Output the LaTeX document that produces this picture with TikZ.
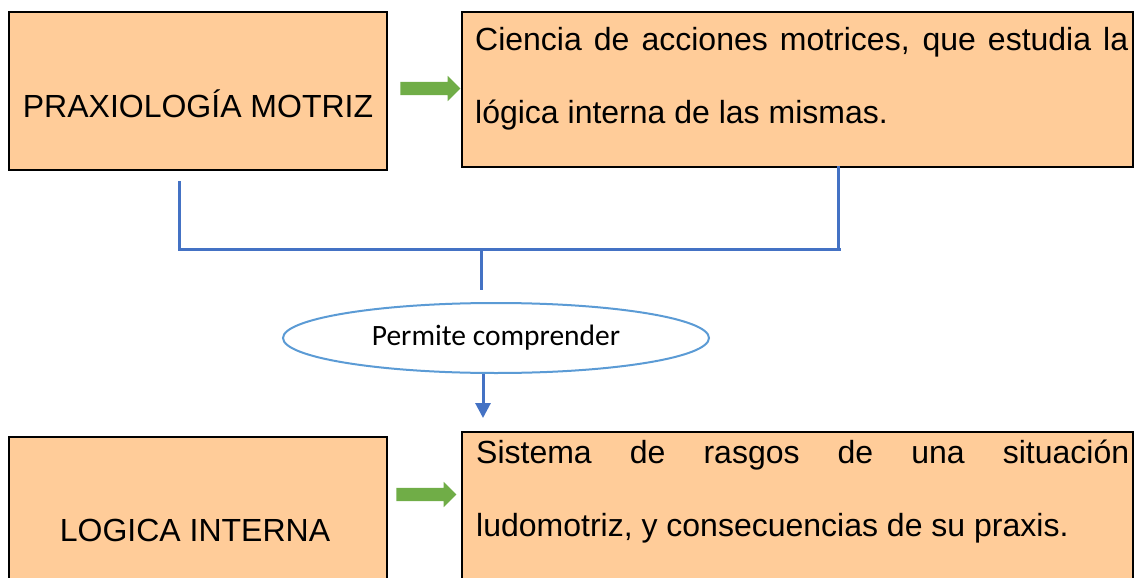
\documentclass[tikz,border=0pt]{standalone}
\usepackage{fontspec}
\setmainfont{Liberation Sans}
\newfontfamily\ovalfont{Carlito}
\usetikzlibrary{positioning}
\usetikzlibrary{shapes.geometric}
\usetikzlibrary{shapes.arrows}
\usetikzlibrary{arrows.meta}
\definecolor{boxorange}{HTML}{FFCC99}
\definecolor{linkblue}{HTML}{4472C4}
\definecolor{ovalblue}{HTML}{5B9BD5}
\definecolor{arrowgreen}{HTML}{70AD47}

\begin{document}
\begin{tikzpicture}[
                x=1pt, y=-1pt,
                box/.style = {
                    draw,
                    fill=boxorange,
                    line width = 2.5pt,
                    inner sep = 0pt
                },
                txt/.style = {
                    font=\fontsize{32}{38}\selectfont,
                    inner sep = 0pt,
                    anchor = base
                },
                link/.style = {linkblue, line width = 3pt},
                go/.style = {
                    single arrow,
                    fill=arrowgreen,
                    inner xsep = 0pt,
                    inner ysep = 6.5pt,
                    minimum height = 60pt,
                    minimum width = 25pt,
                    single arrow head extend = 6pt
                }
            ]
            \useasboundingbox (0,0) rectangle (1135,578);
            % 
            \node[box, minimum width=378pt, minimum height=158pt] (praxis) at (198,91) {};
            \node[txt] (praxistxt) at (198,117) {PRAXIOLOGÍA MOTRIZ};
            % 
            \node[box, minimum width=671pt, minimum height=155pt] (ciencia) at (797.5,89.5) {};
            \node[txt, anchor=base west] (ciencia1) at (475,51) {\makebox[653pt][s]{Ciencia de acciones motrices, que estudia la}};
            \node[txt, anchor=base west] (ciencia2) at (475,123) {lógica interna de las mismas.};
            % 
            \node[go] (gotop) at (427,88.5) {};
            % 
            \node[draw=ovalblue, ellipse, line width=2pt, fill=white, minimum width=426pt, minimum height=70pt,
                  inner sep=0pt, font=\ovalfont\fontsize{29.5}{34}\selectfont] (permite) at (496,338) {Permite comprender};
            % 
            \node[box, minimum width=378pt, minimum height=163pt] (logica) at (198,518.5) {};
            \node[txt] (logicatxt) at (195,541) {LOGICA INTERNA};
            % 
            \node[box, minimum width=671pt, minimum height=168pt] (sistema) at (797.5,516) {};
            \node[txt, anchor=base west] (sistema1) at (476,463) {\makebox[653pt][s]{Sistema de rasgos de una situación}};
            \node[txt, anchor=base west] (sistema2) at (476,536) {ludomotriz, y consecuencias de su praxis.};
            % 
            \node[go] (gobottom) at (423,494.5) {};
            % 
            \coordinate (join) at (481,249);
            \coordinate (rightfoot) at ([xshift=40.5pt]ciencia.south);
            \coordinate (tip) at (483,418);
            % 
            \draw[link] ([xshift=-19pt,yshift=-10pt]praxis.south) |- ([xshift=3pt]rightfoot |- join) ([xshift=0pt]rightfoot |- join) -- ([yshift=2pt]rightfoot);
            \draw[link] (join) -- ([yshift=12pt]permite.north -| join);
            \draw[link, -{Triangle[width=15pt,length=15pt]}] (permite.south -| tip) -- (tip);
            % 
        \end{tikzpicture}
\end{document}
